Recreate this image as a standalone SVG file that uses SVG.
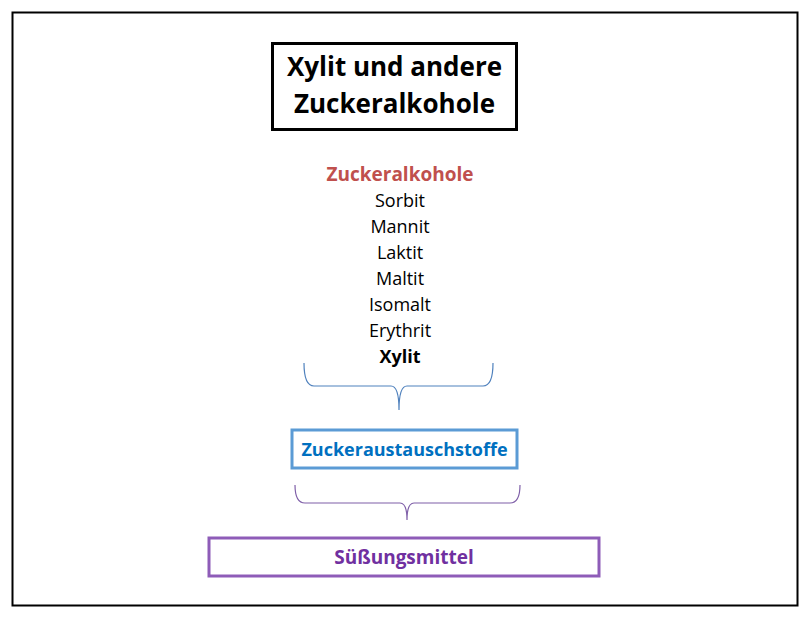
<svg xmlns="http://www.w3.org/2000/svg" width="811" height="621" viewBox="0 0 811 621">
<style>
text{font-family:"Open Sans","Noto Sans","Liberation Sans",sans-serif;text-anchor:middle}
.item{font-size:18px;fill:#000}
.brace{fill:none;stroke-width:1.2}
</style>
<rect x="0" y="0" width="811" height="621" fill="#fff"/>
<rect x="12.5" y="12.5" width="785" height="593" fill="none" stroke="#000" stroke-width="2"/>
<g id="title">
<rect x="272.5" y="43.5" width="244" height="86" fill="#fff" stroke="#000" stroke-width="3"/>
<text x="394.5" y="76" font-size="26" font-weight="bold">Xylit und andere</text>
<text x="394.5" y="113" font-size="26" font-weight="bold">Zuckeralkohole</text>
</g>
<g id="list">
<text x="400" y="181" font-size="19" font-weight="bold" fill="#C0504D">Zuckeralkohole</text>
<text class="item" x="400" y="207">Sorbit</text>
<text class="item" x="400" y="233">Mannit</text>
<text class="item" x="400" y="259">Laktit</text>
<text class="item" x="400" y="285">Maltit</text>
<text class="item" x="400" y="311">Isomalt</text>
<text class="item" x="400" y="337">Erythrit</text>
<text class="item" x="400" y="363" font-weight="bold">Xylit</text>
</g>
<g id="connectors">
<path class="brace" stroke="#4F81BD" d="M304,363 Q304,386 314,386 L391,386 Q399,386 399,410 Q399,386 407,386 L483,386 Q493,386 493,363"/>
<path class="brace" stroke="#7F5FA8" d="M295,485 Q295,503 305,503 L400,503 Q407,503 407,520 Q407,503 414,503 L510,503 Q520,503 520,485"/>
</g>
<g id="zuckeraustauschstoffe">
<rect x="292" y="430" width="225" height="38" fill="#fff" stroke="#5B9BD5" stroke-width="3"/>
<text x="404.5" y="456" font-size="18" font-weight="bold" fill="#0070C0">Zuckeraustauschstoffe</text>
</g>
<g id="suessungsmittel">
<rect x="209" y="538" width="390" height="38" fill="#fff" stroke="#8E5CB8" stroke-width="3"/>
<text x="404" y="564" font-size="19" font-weight="bold" fill="#7030A0">Süßungsmittel</text>
</g>
</svg>
